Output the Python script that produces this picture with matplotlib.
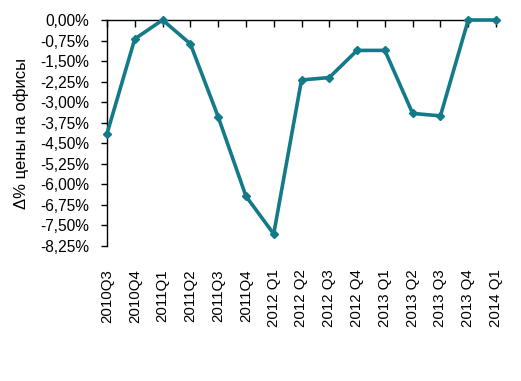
import matplotlib
matplotlib.use("Agg")
import matplotlib.pyplot as plt
from matplotlib.ticker import FuncFormatter

categories = ["2010Q3", "2010Q4", "2011Q1", "2011Q2", "2011Q3", "2011Q4",
              "2012 Q1", "2012 Q2", "2012 Q3", "2012 Q4", "2013 Q1",
              "2013 Q2", "2013 Q3", "2013 Q4", "2014 Q1"]
values = [-4.15, -0.69, 0.0, -0.87, -3.53, -6.43, -7.81, -2.19, -2.10,
          -1.11, -1.11, -3.41, -3.50, 0.0, 0.0]
y_ticks = [0.0, -0.75, -1.50, -2.25, -3.00, -3.75, -4.50, -5.25, -6.00,
           -6.75, -7.50, -8.25]
y_label = "Δ% цены на офисы"

plt.rcParams['font.family'] = ['Liberation Sans', 'DejaVu Sans']

fig = plt.figure(figsize=(5.21, 3.81), dpi=100)
ax = fig.add_axes([107/521, 1 - 246/381, (496-107)/521, (246-20)/381])

x = list(range(len(categories)))
ax.plot(x, values, color="#137a89", lw=2.6, marker="D", ms=4,
        solid_joinstyle="round", zorder=3, clip_on=False)

ax.set_xlim(0, len(categories) - 1)
ax.set_ylim(-8.25, 0)
ax.set_yticks(y_ticks)
ax.yaxis.set_major_formatter(FuncFormatter(lambda v, p: f"{v:.2f}%".replace(".", ",")))
ax.set_xticks(x)
ax.set_xticklabels(categories, rotation=90)

for s in ["right", "bottom"]:
    ax.spines[s].set_visible(False)
ax.spines["top"].set_linewidth(1.0)
ax.spines["left"].set_linewidth(1.0)
ax.tick_params(axis="x", top=True, bottom=False, direction="in", length=5,
               labelbottom=True, labeltop=False, labelsize=10.8, pad=17, width=1.0)
ax.tick_params(axis="y", direction="out", length=4, labelsize=11.2, width=1.0, pad=9)
ax.set_ylabel(y_label, fontsize=12, labelpad=8)

fig.savefig("out.png", dpi=100)
